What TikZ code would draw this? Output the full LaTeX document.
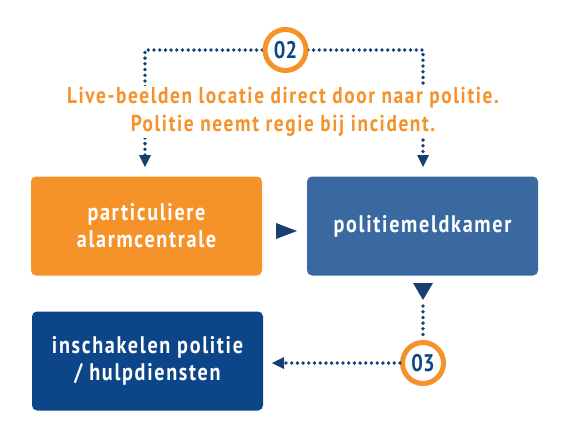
\documentclass[tikz,border=0pt]{standalone}
\usepackage{fontspec}
\newfontfamily\din{PT Sans Bold}[FakeStretch=0.84, LetterSpace=7]
\newfontfamily\dinnum{PT Sans Bold}[FakeStretch=0.85]
\usetikzlibrary{arrows.meta}
\definecolor{corange}{HTML}{F5922A}
\definecolor{cmid}{HTML}{3A69A2}
\definecolor{cdark}{HTML}{0C4689}
\definecolor{cnavy}{HTML}{173F73}
\tikzset{
  box/.style={rounded corners=5pt, minimum width=231pt, minimum height=99pt, text=white, align=center, font=\din\fontsize{24}{27}\selectfont, inner sep=0pt},
  dotline/.style={draw=cnavy, line width=3.8pt, line cap=round, dash pattern=on 0pt off 5.7pt},
  badge/.style={circle, draw=corange, line width=5pt, fill=white, minimum size=41pt, inner sep=0pt, text=cdark, font=\dinnum\fontsize{24}{24}\selectfont},
  tri/.style={fill=cnavy, draw=none}
}
\begin{document}
\begin{tikzpicture}[x=1pt,y=-1pt]
\useasboundingbox (0,0) rectangle (570,440);
\node[box, fill=corange] (alarm) at (146.5,226) {particuliere\\alarmcentrale};
\node[box, fill=cmid] (pmk) at (422.5,226) {politiemeldkamer};
\node[box, fill=cdark] (insch) at (147.5,361) {inschakelen politie\\/ hulpdiensten};
% top connector
\coordinate (tl) at (145,50);
\coordinate (tr) at (423,50);
\coordinate (al) at (145,155);
\coordinate (ar) at (423,155);
\draw[dotline] (al) -- (tl) -- (tr) -- (ar);
\node[fill=white, inner sep=1pt, text=corange, align=center, font=\din\fontsize{23}{28}\selectfont] (txt) at (283,112) {Live-beelden locatie direct door naar politie.\\Politie neemt regie bij incident.};
\node[badge] (b02) at (285.5,50) {02};
\fill[tri] (139,155) -- (151,155) -- (145,167) -- cycle;
\fill[tri] (417,155) -- (429,155) -- (423,167) -- cycle;
% right arrow between boxes
\fill[tri] (276,223) -- (297,231) -- (276,239) -- cycle;
% down arrow under pmk
\fill[tri] (413,283) -- (433,283) -- (423,300) -- cycle;
\node[badge] (b03) at (423,363) {03};
\coordinate (d1) at (423,306);
\coordinate (l1) at (285,363);
\draw[dotline] (d1) -- (b03.north);
\draw[dotline] (b03.west) -- (l1);
\fill[tri] (284,357) -- (284,369) -- (272,363) -- cycle;
\end{tikzpicture}
\end{document}
